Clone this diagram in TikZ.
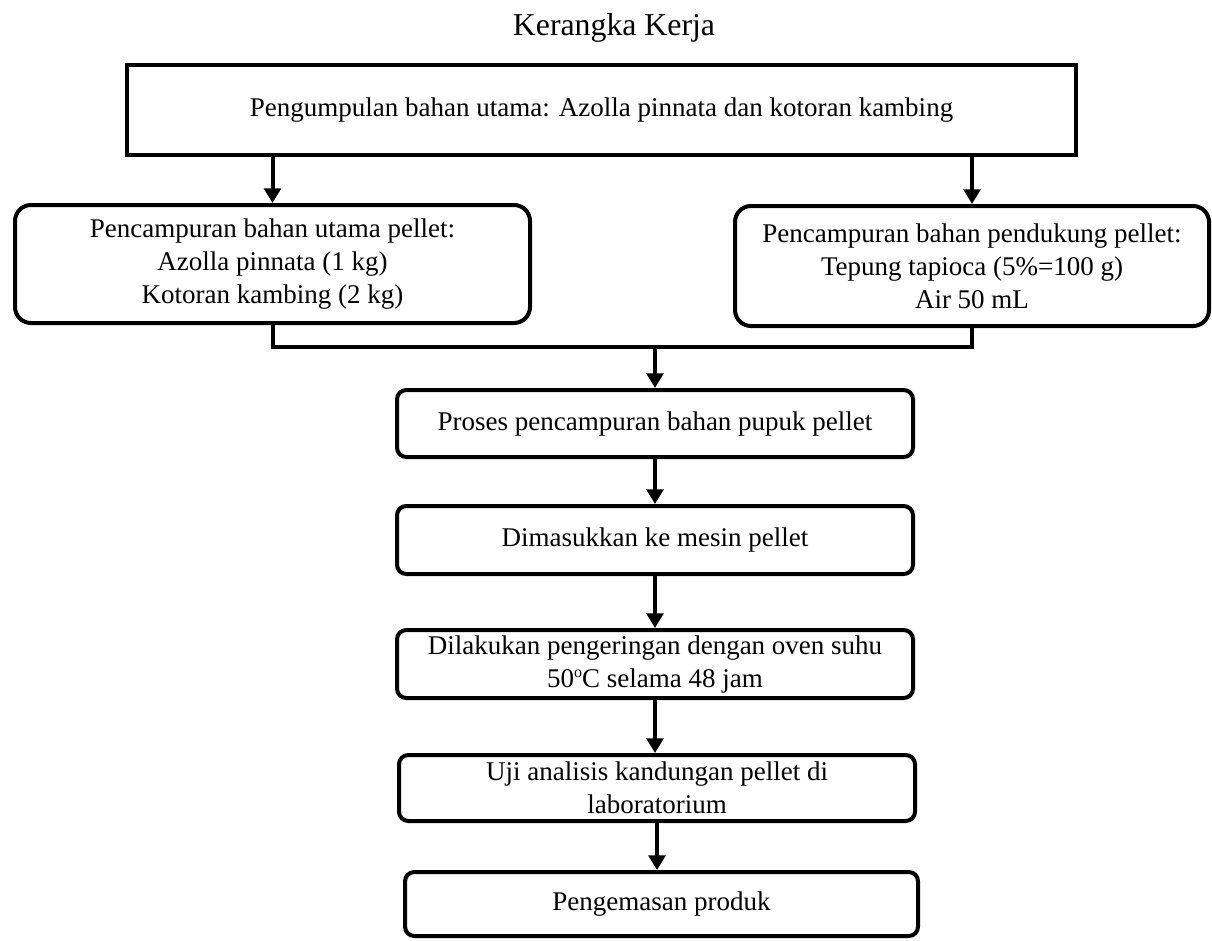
\documentclass[tikz,border=0pt]{standalone}
\usepackage{fontspec}
\setmainfont{Liberation Serif}
\usetikzlibrary{arrows.meta,positioning}
\begin{document}
\begin{tikzpicture}[x=0.75pt,y=-0.75pt,
    box/.style={draw,line width=3pt,rounded corners=7pt,align=center,inner sep=0pt,
        font=\fontsize{20.25}{24.75}\selectfont},
    bigbox/.style={box,rounded corners=12pt},
    arr/.style={line width=3pt,-{Triangle[length=11pt,width=12.5pt]}}]
    \useasboundingbox (0,0) rectangle (1212,940);
    % Title
    \node[anchor=base,font=\fontsize{23.85}{28}\selectfont] (title) at (614,35) {Kerangka Kerja};
    % Main materials
    \node[box,sharp corners,minimum width=711.75pt,minimum height=67.5pt] (kumpul) at (601.5,110)
        {Pengumpulan bahan utama: Azolla pinnata dan kotoran kambing};
    \node[bigbox,minimum width=386.25pt,minimum height=88.5pt] (utama) at (272.5,264)
        {Pencampuran bahan utama pellet:\\Azolla pinnata (1 kg)\\Kotoran kambing (2 kg)};
    \node[bigbox,minimum width=355.5pt,minimum height=90pt] (dukung) at (972,266)
        {Pencampuran bahan pendukung pellet:\\Tepung tapioca (5\%=100 g)\\Air 50 mL};
    % Process steps
    \node[box,minimum width=387pt,minimum height=50.25pt] (proses) at (655,423.5)
        {Proses pencampuran bahan pupuk pellet};
    \node[box,minimum width=387pt,minimum height=51pt] (mesin) at (655,540)
        {Dimasukkan ke mesin pellet};
    \node[box,minimum width=387pt,minimum height=51pt] (kering) at (655,664)
        {Dilakukan pengeringan dengan oven suhu\\50\raisebox{0.75ex}{\fontsize{12}{12}\selectfont o}C selama 48 jam};
    \node[box,minimum width=387pt,minimum height=49.5pt] (uji) at (657,788)
        {Uji analisis kandungan pellet di\\laboratorium};
    \node[box,minimum width=384.75pt,minimum height=48pt] (kemas) at (661.5,904)
        {Pengemasan produk};
    % Arrows
    \coordinate (gabung) at (655,347);
    \draw[arr] (kumpul.south -| utama.north) -- (utama.north);
    \draw[arr] (kumpul.south -| dukung.north) -- (dukung.north);
    \draw[line width=3pt] (utama.south) |- (gabung) -| (dukung.south);
    \draw[arr] (gabung) -- (proses.north);
    \draw[arr] (proses) -- (mesin);
    \draw[arr] (mesin) -- (kering);
    \draw[arr] (kering.south) -- (kering.south |- uji.north);
    \draw[arr] (uji.south) -- (uji.south |- kemas.north);
\end{tikzpicture}
\end{document}
